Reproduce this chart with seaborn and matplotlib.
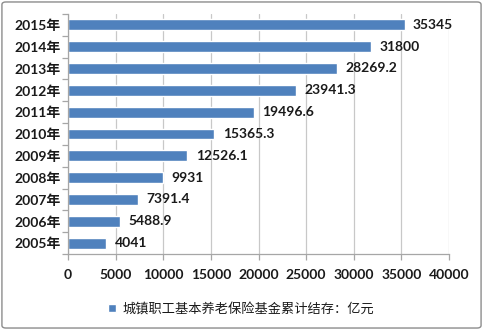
import matplotlib
matplotlib.use("Agg")
import matplotlib.pyplot as plt
import seaborn as sns
import pandas as pd
from matplotlib.patches import FancyBboxPatch
from matplotlib.ticker import MultipleLocator, FixedLocator

years = ["2005年", "2006年", "2007年", "2008年", "2009年", "2010年",
         "2011年", "2012年", "2013年", "2014年", "2015年"]
values = [4041, 5488.9, 7391.4, 9931, 12526.1, 15365.3,
          19496.6, 23941.3, 28269.2, 31800, 35345]
value_labels = ["4041", "5488.9", "7391.4", "9931", "12526.1", "15365.3",
                "19496.6", "23941.3", "28269.2", "31800", "35345"]
series_name = "城镇职工基本养老保险基金累计结存：亿元"

sns.set_theme(style="white")
plt.rcParams["font.family"] = ["Lato", "Noto Sans CJK SC", "DejaVu Sans"]

df = pd.DataFrame({"year": years, "value": values, "series": series_name})
order = years[::-1]

fig = plt.figure(figsize=(4.83, 3.30), dpi=100)
ax = fig.add_axes([0.1408, 0.230, 0.7888, 0.728])

sns.barplot(data=df, x="value", y="year", hue="series", order=order,
            palette=["#4F81BD"], width=0.5, ax=ax, legend=True, saturation=1)

ax.set_xlim(0, 40000)
ax.xaxis.set_major_locator(MultipleLocator(5000))
ax.grid(axis="x", color="#C8C8C8", linewidth=0.9)
ax.set_axisbelow(True)
ax.set_xlabel("")
ax.set_ylabel("")

for side in ["top", "right"]:
    ax.spines[side].set_visible(False)
for side in ["left", "bottom"]:
    ax.spines[side].set_color("#A6A6A6")
    ax.spines[side].set_linewidth(0.9)

ax.tick_params(axis="x", length=4, width=0.9, color="#A6A6A6", direction="out",
               bottom=True, pad=7, labelsize=10, labelcolor="#1a1a1a")
ax.tick_params(axis="y", length=0, pad=5, labelsize=10, labelcolor="#1a1a1a")
ax.yaxis.set_minor_locator(FixedLocator([i - 0.5 for i in range(len(years) + 1)]))
ax.tick_params(axis="y", which="minor", length=4, width=0.9, color="#A6A6A6",
               direction="out", left=True)
for lbl in ax.get_xticklabels():
    lbl.set_fontweight("bold")
for lbl in ax.get_yticklabels():
    lbl.set_fontweight("bold")

# value labels at bar ends
label_by_year = dict(zip(years, value_labels))
container = ax.containers[0]
ax.bar_label(container, labels=[label_by_year[y] for y in order], padding=6,
             fontsize=10, fontweight="bold", color="#1a1a1a")

leg = ax.legend(loc="center", frameon=False, fontsize=9.5,
                handlelength=0.6, handleheight=0.6, handletextpad=0.5)
leg.set_bbox_to_anchor((0.5, 1 - 308 / 330), transform=fig.transFigure)
for t in leg.get_texts():
    t.set_color("#1a1a1a")

frame = FancyBboxPatch((0.004, 0.006), 0.992, 0.988,
                       boxstyle="round,pad=0,rounding_size=0.008",
                       transform=fig.transFigure, fill=False,
                       edgecolor="#8C8C8C", linewidth=1.0)
fig.patches.append(frame)

fig.savefig("out.png", dpi=100)
